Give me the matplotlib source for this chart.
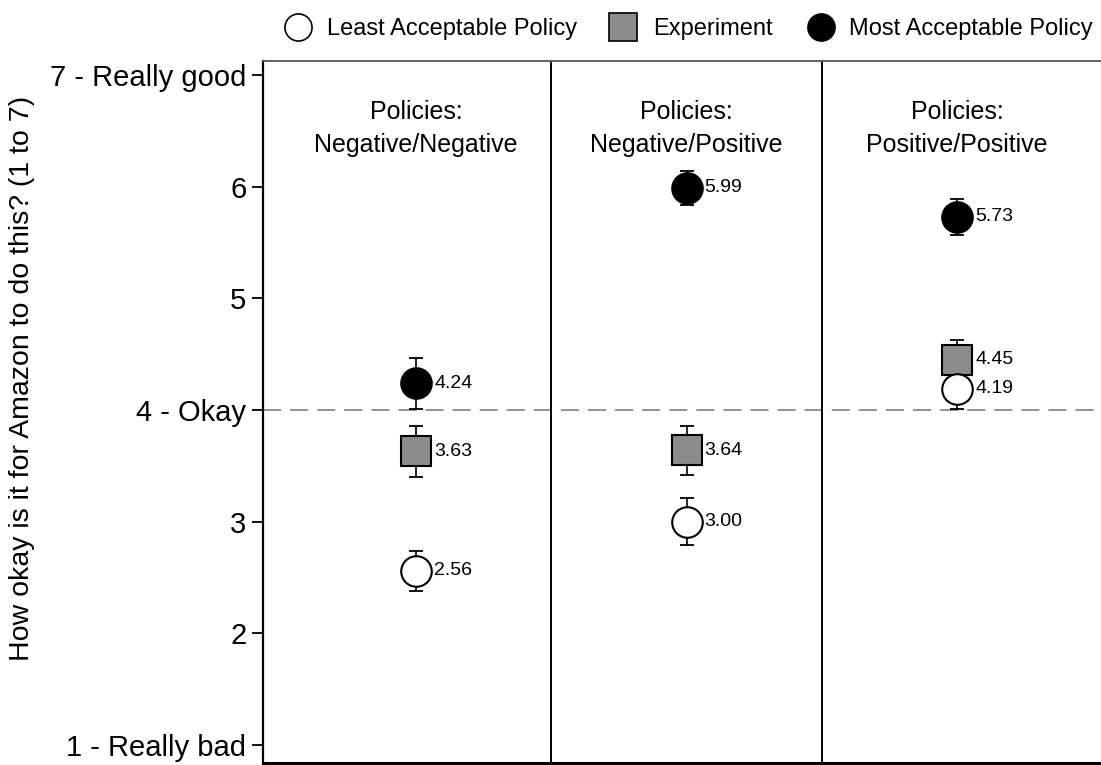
import matplotlib
matplotlib.use("Agg")
import matplotlib.pyplot as plt
from matplotlib.lines import Line2D

plt.rcParams['font.family'] = ['Liberation Sans', 'DejaVu Sans']

# Conditions (one panel each)
panel_titles = ["Policies:\nNegative/Negative",
                "Policies:\nNegative/Positive",
                "Policies:\nPositive/Positive"]

# Mean ratings and error half-widths per series
least_means = [2.56, 3.00, 4.19]
least_errs = [0.18, 0.21, 0.18]
exp_means = [3.63, 3.64, 4.45]
exp_errs = [0.23, 0.22, 0.18]
most_means = [4.24, 5.99, 5.73]
most_errs = [0.23, 0.15, 0.16]

ytick_vals = [1, 2, 3, 4, 5, 6, 7]
ytick_labels = ["1 - Really bad", "2", "3", "4 - Okay", "5", "6", "7 - Really good"]

series_names = ["Least Acceptable Policy", "Experiment", "Most Acceptable Policy"]
series_markers = ['o', 's', 'o']
series_faces = ['white', '#8c8c8c', 'black']

W, H = 1101, 765
fig = plt.figure(figsize=(W / 100, H / 100), dpi=100)
ax = fig.add_axes([263 / W, 1 - 763 / H, (1112 - 263) / W, (763 - 61) / H])

xs = [1, 2, 3]
ms = 22
cap = 4.7

def draw(means, errs, marker, face):
    ax.errorbar(xs, means, yerr=errs, fmt='none', ecolor='black',
                elinewidth=1.2, capsize=cap, capthick=1.3, zorder=3)
    ax.plot(xs, means, linestyle='none', marker=marker, markersize=ms,
            markerfacecolor=face, markeredgecolor='black',
            markeredgewidth=1.5, zorder=4)
    for x, m in zip(xs, means):
        ax.annotate(f"{m:.2f}", (x, m), xytext=(13, 0), textcoords='offset points',
                    ha='left', va='center', fontsize=14, zorder=5)

# draw order: experiment, least, most
draw(exp_means, exp_errs, 's', '#8c8c8c')
draw(least_means, least_errs, 'o', 'white')
draw(most_means, most_errs, 'o', 'black')

# reference line at "Okay" and panel dividers
ax.axhline(4, color='#8a8a8a', linestyle=(0, (10, 5)), linewidth=1.3, zorder=1)
for xd in [1.5, 2.5]:
    ax.axvline(xd, color='black', linewidth=1.4, zorder=2)

for x, t in zip(xs, panel_titles):
    ax.text(x, 6.52, t, ha='center', va='center', fontsize=18, linespacing=1.45)

ax.set_xlim(1 - 153 / 270.5, 3 + 155 / 270.5)
ax.set_ylim(1 - 18 / 111.6, 7 + 14 / 111.6)
ax.set_xticks([])
ax.set_yticks(ytick_vals)
ax.set_yticklabels(ytick_labels, fontsize=21)
ax.tick_params(axis='y', length=8, width=1.3, pad=4)

ax.spines['left'].set_linewidth(1.6)
ax.spines['bottom'].set_linewidth(2.2)
ax.spines['top'].set_color('#555555')
ax.spines['top'].set_linewidth(1.3)
ax.spines['right'].set_visible(False)

fig.text(22 / W, 1 - 378 / H, "How okay is it for Amazon to do this? (1 to 7)",
         rotation=90, ha='center', va='center', fontsize=20.5)

# legend row along the top, laid out item by item
legend_marker_x = [298, 623, 821]
legend_text_x = [327, 653, 849]
legend_y = 1 - 27 / H
for name, mk, fc, mx, tx in zip(series_names, series_markers, series_faces,
                                legend_marker_x, legend_text_x):
    fig.add_artist(Line2D([mx / W], [legend_y], transform=fig.transFigure,
                          linestyle='none', marker=mk, markersize=19.5,
                          markerfacecolor=fc, markeredgecolor='black',
                          markeredgewidth=1.2))
    fig.text(tx / W, legend_y, name, ha='left', va='center_baseline', fontsize=17)

fig.savefig("out.png", dpi=100)
